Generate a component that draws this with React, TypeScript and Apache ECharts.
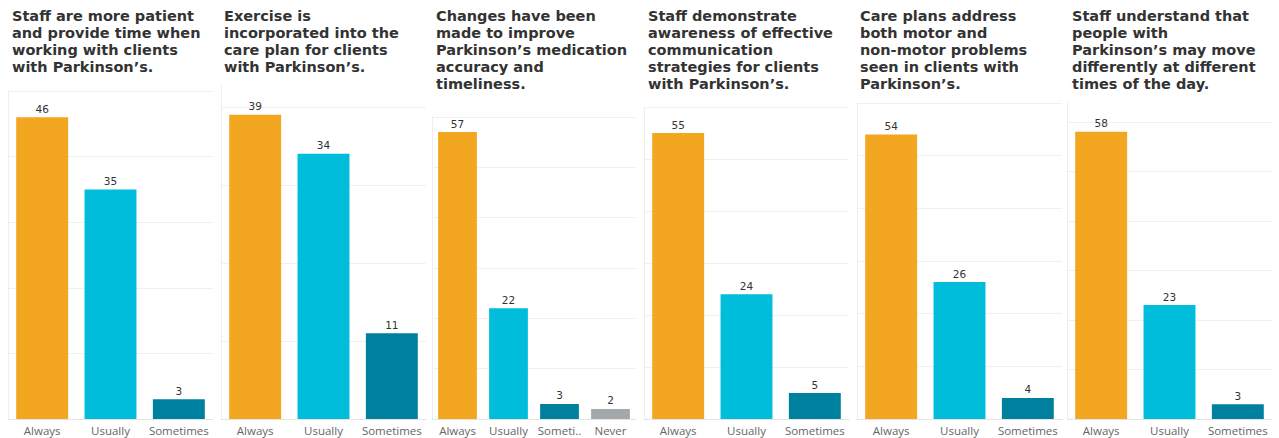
import React, { useEffect, useRef } from "react";
import * as echarts from "echarts";

// ---- data ----
const titles = [
  "Staff are more patient\nand provide time when\nworking with clients\nwith Parkinson’s.",
  "Exercise is\nincorporated into the\ncare plan for clients\nwith Parkinson’s.",
  "Changes have been\nmade to improve\nParkinson’s medication\naccuracy and\ntimeliness.",
  "Staff demonstrate\nawareness of effective\ncommunication\nstrategies for clients\nwith Parkinson’s.",
  "Care plans address\nboth motor and\nnon-motor problems\nseen in clients with\nParkinson’s.",
  "Staff understand that\npeople with\nParkinson’s may move\ndifferently at different\ntimes of the day.",
];
const categories3 = ["Always", "Usually", "Sometimes"];
const categories4 = ["Always", "Usually", "Sometimes", "Never"];
const patienceValues = [46, 35, 3];
const exerciseValues = [39, 34, 11];
const medicationValues = [57, 22, 3, 2];
const communicationValues = [55, 24, 5];
const carePlanValues = [54, 26, 4];
const movementValues = [58, 23, 3];
const panelValues = [
  patienceValues,
  exerciseValues,
  medicationValues,
  communicationValues,
  carePlanValues,
  movementValues,
];
const panelCategories = [categories3, categories3, categories4, categories3, categories3, categories3];
const axisMax = [50, 42.8, 60, 60, 60, 64];

// ---- styling / layout ----
const categoryColors: Record<string, string> = {
  Always: "#F3A61F",
  Usually: "#00BEDB",
  Sometimes: "#00809F",
  Never: "#A5A8AB",
};
const gridLeft = [8, 221, 432, 644, 857, 1067];
const gridWidth = [205, 205, 204, 205, 205, 205];
const gridTop = [91, 85, 117, 107, 103, 102];
const titleLeft = [12, 224, 436, 648, 860, 1072];

export default function App() {
  const ref = useRef<HTMLDivElement>(null);
  useEffect(() => {
    if (!ref.current) return;
    const chart = echarts.init(ref.current, undefined, { renderer: "svg" });
    const grids: any[] = [];
    const xAxes: any[] = [];
    const yAxes: any[] = [];
    const series: any[] = [];
    const title: any[] = [];
    panelValues.forEach((vals, i) => {
      const cats = panelCategories[i];
      const max = axisMax[i];
      const nTicks = Math.floor(max / 10) + 1;
      const splitColors: string[] = [];
      for (let k = 0; k < nTicks; k++) splitColors.push("#f0f0f0");
      if (max % 10 !== 0) splitColors.push("rgba(0,0,0,0)");
      grids.push({
        left: gridLeft[i],
        width: gridWidth[i],
        top: gridTop[i],
        bottom: 19,
        containLabel: false,
      });
      xAxes.push({
        type: "category",
        gridIndex: i,
        data: cats,
        axisTick: { show: false },
        axisLine: { show: true, lineStyle: { color: "#e4e4e4", width: 1 } },
        axisLabel: {
          color: "#666",
          fontSize: 11.5,
          fontFamily: "Open Sans",
          margin: 5,
          interval: 0,
          formatter: (v: string) => (cats.length > 3 && v === "Sometimes" ? "Someti.." : v),
        },
      });
      yAxes.push({
        type: "value",
        gridIndex: i,
        min: 0,
        max: max,
        interval: 10,
        axisLabel: { show: false },
        axisTick: { show: false },
        axisLine: { show: true, lineStyle: { color: "#eeeeee", width: 1 } },
        splitLine: { show: true, lineStyle: { color: splitColors, width: 1 } },
      });
      series.push({
        type: "bar",
        xAxisIndex: i,
        yAxisIndex: i,
        barCategoryGap: "24%",
        data: vals.map((v, k) => ({
          value: v,
          itemStyle: { color: categoryColors[cats[k]] },
        })),
        label: {
          show: true,
          position: "top",
          distance: 3,
          color: "#333",
          fontSize: 10.5,
          fontFamily: "DejaVu Sans",
        },
      });
      title.push({
        text: titles[i],
        left: titleLeft[i],
        top: 7,
        padding: 0,
        textStyle: {
          fontFamily: "DejaVu Sans",
          fontWeight: "bold",
          fontSize: 14.5,
          lineHeight: 17,
          color: "#333",
        },
      });
    });
    chart.setOption({
      animation: false,
      backgroundColor: "#fff",
      title,
      grid: grids,
      xAxis: xAxes,
      yAxis: yAxes,
      series,
    });
    return () => chart.dispose();
  }, []);
  return (
    <div
      ref={ref}
      style={{ position: "fixed", left: 0, top: 0, width: 1279, height: 438 }}
    />
  );
}
